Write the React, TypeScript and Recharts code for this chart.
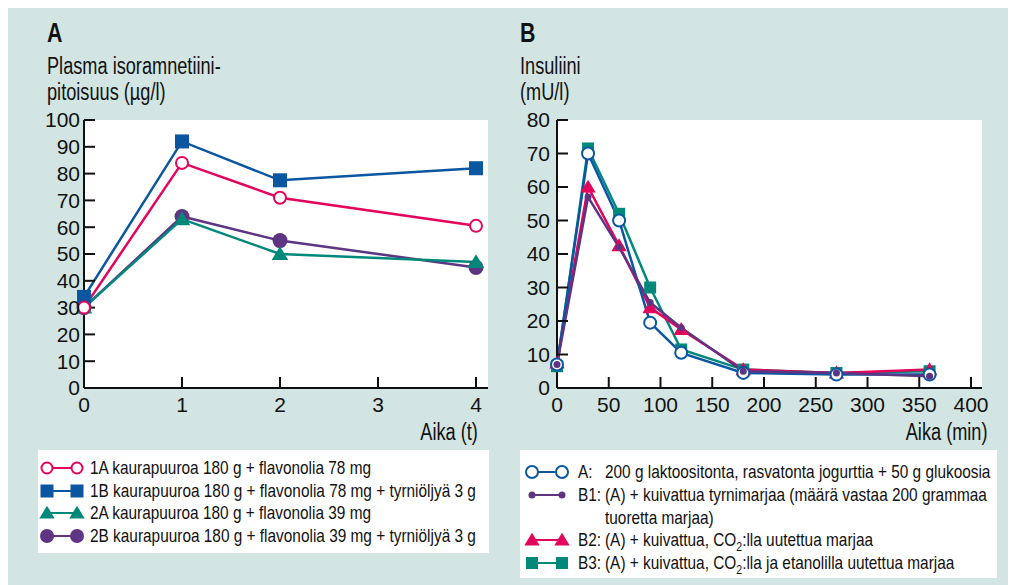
import React from 'react'
import { LineChart, Line, XAxis, YAxis, CartesianGrid } from 'recharts'

const FONT = '"Liberation Sans", Arial, sans-serif'
const BG = '#d2e5e2'
const SQUEEZE = 0.79
const LEGEND_SQUEEZE = 0.81

const PINK = '#e3045c'
const BLUE = '#0a56a0'
const GREEN = '#00897a'
const PURPLE = '#5d3582'

// Panel A: plasma isorhamnetin (µg/l) vs time (h)
const hoursA = [0, 1, 2, 4]
const s1A = [30, 84, 71, 60.5]
const s1B = [34, 92, 77.5, 82]
const s2A = [30, 63, 50, 47]
const s2B = [30, 64, 55, 45]
const ticksAx = [0, 1, 2, 3, 4]
const ticksAy = [0, 10, 20, 30, 40, 50, 60, 70, 80, 90, 100]
const legendA = [
  '1A kaurapuuroa 180 g + flavonolia 78 mg',
  '1B kaurapuuroa 180 g + flavonolia 78 mg + tyrniöljyä 3 g',
  '2A kaurapuuroa 180 g + flavonolia 39 mg',
  '2B kaurapuuroa 180 g + flavonolia 39 mg + tyrniöljyä 3 g',
]

// Panel B: insulin (mU/l) vs time (min)
const minutesB = [0, 30, 60, 90, 120, 180, 270, 360]
const sA = [7, 70, 50, 19.5, 10.5, 4.5, 4, 4]
const sB1 = [7, 57, 42, 25.5, 18, 5, 4.5, 3.5]
const sB2 = [7.5, 60, 42.5, 24, 17.5, 5.5, 4.5, 5.5]
const sB3 = [6.5, 71.5, 52, 30, 11.5, 5.5, 4.5, 5]
const ticksBx = [0, 50, 100, 150, 200, 250, 300, 350, 400]
const ticksBy = [0, 10, 20, 30, 40, 50, 60, 70, 80]

const dataA = hoursA.map((t, i) => ({ t, a1: s1A[i], b1: s1B[i], a2: s2A[i], b2: s2B[i] }))
const dataB = minutesB.map((t, i) => ({ t, a: sA[i], b1: sB1[i], b2: sB2[i], b3: sB3[i] }))

type Shape = 'ring' | 'square' | 'triangle' | 'disc'

function Marker({ shape, color, size, cx, cy }: { shape: Shape; color: string; size: number; cx: number; cy: number }) {
  const h = size / 2
  if (shape === 'ring') return <circle cx={cx} cy={cy} r={h} fill="#fff" stroke={color} strokeWidth={2} />
  if (shape === 'disc') return <circle cx={cx} cy={cy} r={h} fill={color} />
  if (shape === 'square') return <rect x={cx - h} y={cy - h} width={size} height={size} fill={color} />
  return <polygon points={`${cx},${cy - h * 1.05} ${cx + h * 1.1},${cy + h * 0.8} ${cx - h * 1.1},${cy + h * 0.8}`} fill={color} />
}

const dot = (shape: Shape, color: string, size: number) => (p: any) => (
  <Marker key={`d-${p.index}`} shape={shape} color={color} size={size} cx={p.cx} cy={p.cy} />
)

function LegendSymbol({ shape, color, size }: { shape: Shape; color: string; size: number }) {
  return (
    <svg width={48} height={20} style={{ display: 'block' }}>
      <line x1={9} y1={10} x2={39} y2={10} stroke={color} strokeWidth={2} />
      <Marker shape={shape} color={color} size={size} cx={9} cy={10} />
      <Marker shape={shape} color={color} size={size} cx={39} cy={10} />
    </svg>
  )
}

// condensed text: the reference uses a narrow face, so squeeze a normal one
function Cond({ children, origin = 'left', k = SQUEEZE }: { children: React.ReactNode; origin?: string; k?: number }) {
  return (
    <span style={{ display: 'inline-block', transform: `scaleX(${k})`, transformOrigin: `${origin} center` }}>
      {children}
    </span>
  )
}

const tickStyle = { fontSize: 21, fill: '#111', fontFamily: FONT }
const axisLine = { stroke: '#111', strokeWidth: 2 }
const tickLine = { stroke: '#111', strokeWidth: 2 }

const text = (s: React.CSSProperties): React.CSSProperties => ({
  position: 'absolute',
  fontFamily: FONT,
  color: '#111',
  whiteSpace: 'nowrap',
  ...s,
})

const seriesA = [
  { key: 'b2', color: PURPLE, shape: 'disc' as Shape, size: 15 },
  { key: 'a2', color: GREEN, shape: 'triangle' as Shape, size: 15 },
  { key: 'b1', color: BLUE, shape: 'square' as Shape, size: 14 },
  { key: 'a1', color: PINK, shape: 'ring' as Shape, size: 12 },
]
const legendShapesA = [seriesA[3], seriesA[2], seriesA[1], seriesA[0]]

const seriesB = [
  { key: 'b3', color: GREEN, shape: 'square' as Shape, size: 12 },
  { key: 'b2', color: PINK, shape: 'triangle' as Shape, size: 14 },
  { key: 'a', color: BLUE, shape: 'ring' as Shape, size: 12 },
  { key: 'b1', color: PURPLE, shape: 'disc' as Shape, size: 7 },
]
const legendB = [
  { tag: 'A:', body: ['200 g laktoositonta, rasvatonta jogurttia + 50 g glukoosia'], s: seriesB[2] },
  { tag: 'B1:', body: ['(A) + kuivattua tyrnimarjaa (määrä vastaa 200 grammaa', 'tuoretta marjaa)'], s: seriesB[3] },
  { tag: 'B2:', body: ['(A) + kuivattua, CO', '2', ':lla uutettua marjaa'], s: seriesB[1] },
  { tag: 'B3:', body: ['(A) + kuivattua, CO', '2', ':lla ja etanolilla uutettua marjaa'], s: seriesB[0] },
]
const legendRowTopB = [11, 34, 79, 102]

const legendFont: React.CSSProperties = { fontFamily: FONT, fontSize: 19, lineHeight: '22.5px', color: '#111', whiteSpace: 'nowrap' }

export default function App() {
  return (
    <div style={{ position: 'relative', width: 1008, height: 577, background: BG, overflow: 'hidden' }}>
      {/* Panel A */}
      <div style={text({ left: 39, top: 12, fontSize: 27, fontWeight: 700, lineHeight: '27px' })}>
        <Cond>A</Cond>
      </div>
      <div style={text({ left: 39, top: 45, fontSize: 23, lineHeight: '26px' })}>
        <Cond>
          Plasma isoramnetiini-
          <br />
          pitoisuus (µg/l)
        </Cond>
      </div>
      <div style={text({ left: 270, width: 200, top: 411, fontSize: 23, lineHeight: '26px', textAlign: 'right' })}>
        <Cond origin="right">Aika (t)</Cond>
      </div>

      <div style={{ position: 'absolute', left: 0, top: 0 }}>
        <LineChart width={500} height={440} data={dataA} margin={{ top: 112, right: 20, left: 36, bottom: 30 }}>
          <CartesianGrid fill="#fff" horizontal={false} vertical={false} />
          <XAxis
            dataKey="t"
            type="number"
            domain={[0, 4]}
            ticks={ticksAx}
            interval={0}
            padding={{ left: 0, right: 12 }}
            height={30}
            tick={tickStyle}
            axisLine={axisLine}
            tickLine={tickLine}
            tickSize={-11}
            tickMargin={20}
          />
          <YAxis
            type="number"
            domain={[0, 100]}
            ticks={ticksAy}
            interval={0}
            width={40}
            tick={tickStyle}
            axisLine={axisLine}
            tickLine={tickLine}
            tickSize={-11}
            tickMargin={15}
          />
          {seriesA.map((s) => (
            <Line
              key={s.key}
              type="linear"
              dataKey={s.key}
              stroke={s.color}
              strokeWidth={2.5}
              dot={dot(s.shape, s.color, s.size)}
              activeDot={false}
              isAnimationActive={false}
            />
          ))}
        </LineChart>
      </div>

      <div style={{ position: 'absolute', left: 30, top: 442, width: 451, height: 103, background: '#fff' }}>
        {legendA.map((label, i) => (
          <div key={label} style={{ position: 'absolute', left: 0, top: 7 + i * 22.5, height: 22, width: 451, display: 'flex', alignItems: 'center' }}>
            <LegendSymbol shape={legendShapesA[i].shape} color={legendShapesA[i].color} size={legendShapesA[i].size - 1} />
            <span style={{ ...legendFont, position: 'absolute', left: 52, top: 0 }}>
              <Cond k={LEGEND_SQUEEZE}>{label}</Cond>
            </span>
          </div>
        ))}
      </div>

      {/* Panel B */}
      <div style={text({ left: 512, top: 12, fontSize: 27, fontWeight: 700, lineHeight: '27px' })}>
        <Cond>B</Cond>
      </div>
      <div style={text({ left: 512, top: 45, fontSize: 23, lineHeight: '26px' })}>
        <Cond>
          Insuliini
          <br />
          (mU/l)
        </Cond>
      </div>
      <div style={text({ left: 780, width: 200, top: 411, fontSize: 23, lineHeight: '26px', textAlign: 'right' })}>
        <Cond origin="right">Aika (min)</Cond>
      </div>

      <div style={{ position: 'absolute', left: 500, top: 0 }}>
        <LineChart width={500} height={440} data={dataB} margin={{ top: 112, right: 26, left: 9, bottom: 30 }}>
          <CartesianGrid fill="#fff" horizontal={false} vertical={false} />
          <XAxis
            dataKey="t"
            type="number"
            domain={[0, 400]}
            ticks={ticksBx}
            interval={0}
            padding={{ left: 0, right: 11 }}
            height={30}
            tick={tickStyle}
            axisLine={axisLine}
            tickLine={tickLine}
            tickSize={-11}
            tickMargin={20}
          />
          <YAxis
            type="number"
            domain={[0, 80]}
            ticks={ticksBy}
            interval={0}
            width={40}
            tick={tickStyle}
            axisLine={axisLine}
            tickLine={tickLine}
            tickSize={-11}
            tickMargin={18}
          />
          {seriesB.map((s) => (
            <Line
              key={s.key}
              type="linear"
              dataKey={s.key}
              stroke={s.color}
              strokeWidth={2.5}
              dot={dot(s.shape, s.color, s.size)}
              activeDot={false}
              isAnimationActive={false}
            />
          ))}
        </LineChart>
      </div>

      <div style={{ position: 'absolute', left: 512, top: 442, width: 477, height: 128, background: '#fff' }}>
        {legendB.map((row, i) => (
          <div key={row.tag} style={{ position: 'absolute', left: 0, top: legendRowTopB[i], width: 477, height: 46 }}>
            <div style={{ position: 'absolute', left: 3, top: 1 }}>
              <LegendSymbol shape={row.s.shape} color={row.s.color} size={row.s.size} />
            </div>
            <span style={{ ...legendFont, position: 'absolute', left: 58, top: 0 }}>
              <Cond k={LEGEND_SQUEEZE}>{row.tag}</Cond>
            </span>
            <span style={{ ...legendFont, position: 'absolute', left: 85, top: 0 }}>
              <Cond k={LEGEND_SQUEEZE}>
                {row.body.length === 3 ? (
                  <>
                    {row.body[0]}
                    <sub style={{ fontSize: 13, lineHeight: 0 }}>{row.body[1]}</sub>
                    {row.body[2]}
                  </>
                ) : (
                  row.body.map((l, j) => (
                    <React.Fragment key={j}>
                      {j > 0 && <br />}
                      {l}
                    </React.Fragment>
                  ))
                )}
              </Cond>
            </span>
          </div>
        ))}
      </div>
    </div>
  )
}
